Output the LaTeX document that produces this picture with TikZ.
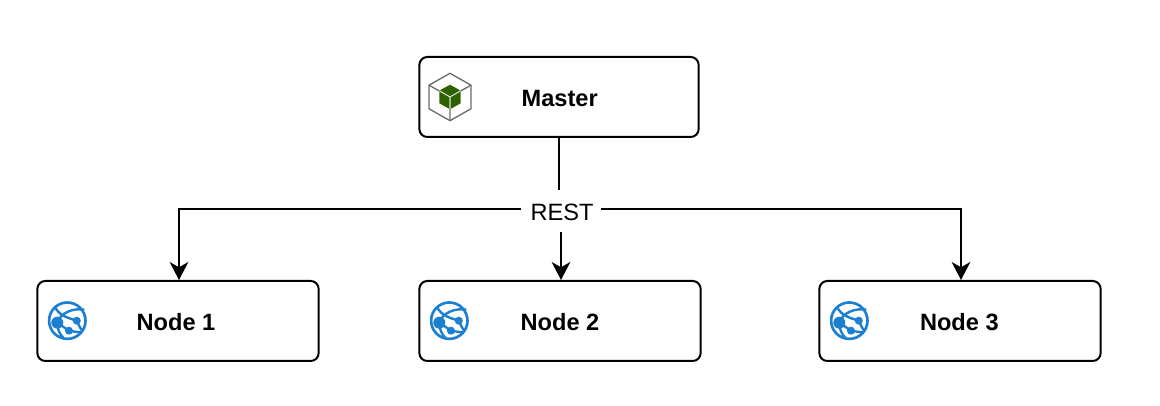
\documentclass[tikz,border=0pt]{standalone}
\usepackage{fontspec}
\setmainfont{Liberation Sans}
\usetikzlibrary{arrows.meta}
\definecolor{cubegray}{HTML}{6B6B6B}
\definecolor{cubegreen}{HTML}{2D6200}
\definecolor{globeblue}{HTML}{1C7FD2}
\tikzset{
    every node/.style={font=\fontsize{17.7}{20}\selectfont, text height=14.2pt, text depth=0pt},
    box/.style={draw, line width=1.5pt, rounded corners=6pt, minimum width=211pt, minimum height=60pt, inner sep=0pt, font=\fontsize{17.7}{20}\selectfont\bfseries},
    link/.style={line width=1.5pt},
    arrow/.style={link, -{Stealth[length=13.5pt, width=14pt, inset=4pt]}},
    cubeicon/.pic={
        \draw[cubegray, line width=1pt, line join=round] (0,23.7) -- (21,11.8) -- (21,-11.8) -- (0,-23.7) -- (-21,-11.8) -- (-21,11.8) -- cycle;
        \draw[cubegray, line width=1pt] (0,0) -- (0,-23.7) (0,0) -- (-21,11.8) (0,0) -- (21,11.8);
        \fill[cubegreen] (0,12.3) -- (10.7,6.3) -- (10.7,-6.3) -- (0,-12.3) -- (-10.7,-6.3) -- (-10.7,6.3) -- cycle;
        \draw[white!80!cubegreen, line width=0.8pt] (-10.7,6.3) -- (0,0) -- (10.7,6.3) (0,0) -- (0,-12.3);
    },
    globeicon/.pic={
        \draw[globeblue, line width=2pt] (0,0) circle (18.2);
        \fill[globeblue] (-10,-2) circle (6) (9.5,0) circle (4) (1.7,-10) circle (4);
        \draw[globeblue, line width=1.8pt] (-12.5,14) .. controls (-8,5) and (0,3) .. (9.5,0);
        \draw[globeblue, line width=1.8pt] (-10,-2) .. controls (-7,8) and (6,13) .. (17,11);
        \draw[globeblue, line width=1.8pt] (-10,-2) -- (1.7,-10) (9.5,0) .. controls (12,-6) and (14,-9) .. (15,-10);
        \draw[globeblue, line width=1.8pt] (-10,-2) .. controls (-10,-8) and (-8,-13) .. (-4,-17);
        \draw[globeblue, line width=1.8pt] (1.7,-10) .. controls (6,-11) and (10,-11) .. (14,-12);
    },
}
\begin{document}
\begin{tikzpicture}[x=0.75pt, y=0.75pt]
    \useasboundingbox (0,0) rectangle (1160,406);

    % Boxes
    \node[box, minimum width=209.5pt] (master) at (559,309) {\kern1pt Master};
    \node[box] (node1) at (178,85) {\kern-3pt Node 1};
    \node[box] (node2) at (560,85) {Node 2};
    \node[box] (node3) at (960,85) {\kern-1pt Node 3};

    % Label and the ends of the lines around it
    \node (rest) at (562,195) {REST};
    \coordinate (restleft) at (521,197);
    \coordinate (restright) at (601,197);
    \coordinate (resttop) at (559,216);
    \coordinate (restbottom) at (561,174);

    % Connectors
    \draw[link] (master.south) -- (resttop);
    \draw[arrow] (restleft) -| ([xshift=0.75pt]node1.north);
    \draw[arrow] (restright) -| ([xshift=0.75pt]node3.north);
    \draw[arrow] (restbottom) -- (restbottom |- node2.north);

    % Icons
    \pic at (450,309) {cubeicon};
    \pic at (67.3,85.3) {globeicon};
    \pic at (449.3,85.3) {globeicon};
    \pic at (849.3,85.3) {globeicon};
\end{tikzpicture}
\end{document}
